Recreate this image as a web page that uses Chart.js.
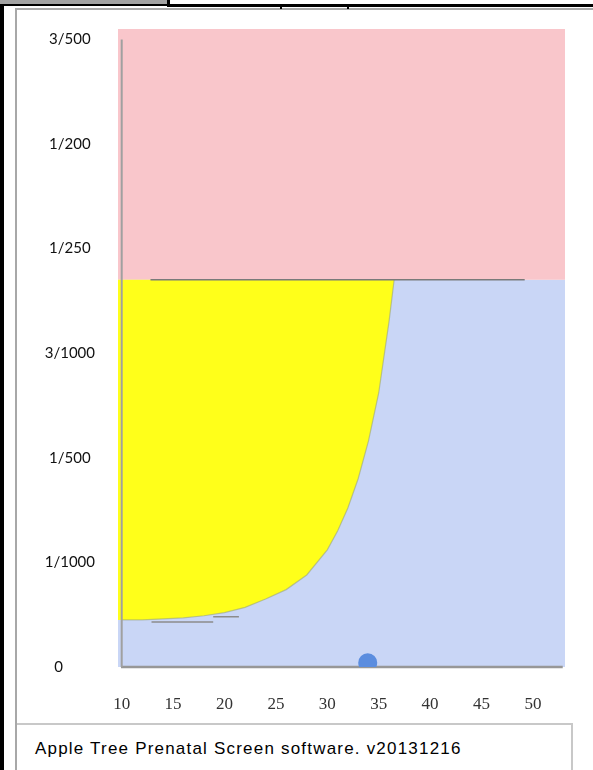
<!DOCTYPE html>
<html>
<head>
<meta charset="utf-8">
<script src="https://cdn.jsdelivr.net/npm/chart.js@4.4.1/dist/chart.umd.min.js"></script>
<style>
  html, body { margin: 0; padding: 0; background: #fff; }
  body { width: 593px; height: 770px; position: relative; overflow: hidden; }
  .abs { position: absolute; }
  #chartWrap { position: absolute; left: 17px; top: -3px; width: 556px; height: 726px; }
  #footerText { font-family: "Liberation Sans", Arial, sans-serif; font-size: 17px; letter-spacing: 1.2px; line-height: 17px; color: #000; white-space: nowrap; }
</style>
</head>
<body>
<!-- window chrome -->
<div class="abs" style="left:0;top:0;width:167px;height:4px;background:#a3a3a3;border-bottom:2px solid #000;border-right:3px solid #000;"></div>
<div class="abs" style="left:167px;top:4px;width:426px;height:3px;background:#000;"></div>
<div class="abs" style="left:0;top:4px;width:4px;height:766px;background:#000;"></div>
<div class="abs" style="left:15px;top:8px;width:600px;height:800px;border-left:2px solid #a8a8a8;border-top:2px solid #a8a8a8;"></div>
<div class="abs" style="left:280px;top:7px;width:2px;height:2px;background:#000;"></div>
<div class="abs" style="left:347px;top:7px;width:2px;height:2px;background:#000;"></div>
<!-- chart -->
<div id="chartWrap"><canvas id="c" width="556" height="726" style="display:block;width:556px;height:726px;"></canvas></div>
<!-- footer -->
<div class="abs" style="left:17px;top:723px;width:554px;height:60px;border-top:2px solid #c8c8c8;border-right:2px solid #c8c8c8;"></div>
<div id="footerText" class="abs" style="left:35px;top:740px;">Apple Tree Prenatal Screen software. v20131216</div>

<script>
// ---------------- data ----------------
const xTicks = [10, 15, 20, 25, 30, 35, 40, 45, 50];
const yTickValues = [0, 0.001, 0.002, 0.003, 0.004, 0.005, 0.006];
const yTickLabels = ['0', '1/1000', '1/500', '3/1000', '1/250', '1/200', '3/500'];

const xMin = 9.64, xMax = 53.12;
const yMin = 0, yMax = 0.0061;

const cutoffRisk = 1 / 270;          // high-risk threshold

// age (x) vs. risk curve bounding the yellow zone
const curveAge  = [9.64, 10, 12, 14, 16, 18, 20, 22, 24, 26, 28, 30, 31, 32, 33, 34, 35, 36, 36.5];
const curveRisk = [0.00045, 0.00045, 0.00045, 0.00046, 0.00047, 0.00049, 0.00052, 0.00057, 0.00065,
                   0.00074, 0.00088, 0.00112, 0.00130, 0.00152, 0.00180, 0.00216, 0.00262, 0.00330, 0.00370];

// reference line on the threshold
const cutoffLineAge = [12.8, 49.2];

// small step segments near the bottom of the curve
const stepAge  = [12.9, 18.9, null, 18.9, 21.4];
const stepRisk = [0.00043, 0.00043, null, 0.00048, 0.00048];

// axis lines
const yAxisLineAge = [10, 10];
const yAxisLineRisk = [0, 0.006];
const xAxisLineAge = [9.93, 52.9];

// patient result
const patientAge  = [33.93];
const patientRisk = [0.00004];

const pts = (xs, ys) => xs.map((x, i) => ({ x: x, y: (x === null || ys[i] === null) ? null : ys[i] }));

const datasets = [
  { data: pts([xMin, xMax], [cutoffRisk, cutoffRisk]),
    fill: 'origin', backgroundColor: '#c9d6f6', borderWidth: 0, pointRadius: 0, order: 10 },
  { data: pts([xMin, xMax], [yMax, yMax]),
    fill: { value: cutoffRisk }, backgroundColor: '#f9c6cb', borderWidth: 0, pointRadius: 0, order: 9 },
  { data: pts(curveAge, curveRisk),
    fill: { value: cutoffRisk }, backgroundColor: '#ffff1a', borderWidth: 0, pointRadius: 0, order: 8 },
  { data: pts(curveAge.slice(1), curveRisk.slice(1)),
    fill: false, borderColor: 'rgba(150,160,120,0.55)', borderWidth: 1.2, pointRadius: 0, order: 7 },
  { data: pts(cutoffLineAge, [cutoffRisk, cutoffRisk]),
    fill: false, borderColor: '#7a7a7a', borderWidth: 1.5, pointRadius: 0, order: 5 },
  { data: pts(stepAge, stepRisk),
    fill: false, borderColor: '#8c8c8c', borderWidth: 1.5, pointRadius: 0, spanGaps: false, order: 5 },
  { data: pts(yAxisLineAge, yAxisLineRisk),
    fill: false, borderColor: '#a0a0a0', borderWidth: 2, pointRadius: 0, clip: false, order: 4 },
  { data: pts(xAxisLineAge, [0, 0]),
    fill: false, borderColor: '#979797', borderWidth: 2.5, pointRadius: 0, clip: false, order: 4 },
  { data: pts(patientAge, patientRisk),
    showLine: false, pointRadius: 9.5, pointHoverRadius: 9.5, pointBackgroundColor: '#5b8ddf',
    pointBorderWidth: 0, clip: 0, order: 1 }
];

new Chart(document.getElementById('c'), {
  type: 'line',
  data: { datasets: datasets },
  options: {
    responsive: false,
    animation: false,
    devicePixelRatio: 1,
    layout: { autoPadding: false, padding: { top: 19, right: 8, left: 0, bottom: 0 } },
    plugins: { legend: { display: false }, tooltip: { enabled: false } },
    elements: { line: { tension: 0 } },
    scales: {
      x: {
        type: 'linear', min: xMin, max: xMax,
        grid: { display: false, drawTicks: false }, border: { display: false },
        afterBuildTicks: (s) => { s.ticks = xTicks.map(v => ({ value: v })); },
        afterFit: (s) => { s.height = 56; },
        ticks: {
          padding: 27, maxRotation: 0, autoSkip: false,
          color: '#333', font: { family: '"Liberation Serif", "Times New Roman", serif', size: 17 },
          callback: (v) => String(v)
        }
      },
      y: {
        type: 'linear', min: yMin, max: yMax,
        grid: { display: false, drawTicks: false }, border: { display: false },
        afterBuildTicks: (s) => { s.ticks = yTickValues.map(v => ({ value: v })); },
        afterFit: (s) => { s.width = 101; },
        ticks: {
          padding: 23, crossAlign: 'center', autoSkip: false,
          color: '#111', font: { family: 'Lato, "Open Sans", sans-serif', size: 15 },
          callback: (v) => {
            const i = yTickValues.findIndex(t => Math.abs(t - v) < 1e-9);
            const lbl = i >= 0 ? yTickLabels[i] : '';
            return v === 0 ? lbl + '\u2003\u2003' : lbl;
          }
        }
      }
    }
  }
});
</script>
</body>
</html>
